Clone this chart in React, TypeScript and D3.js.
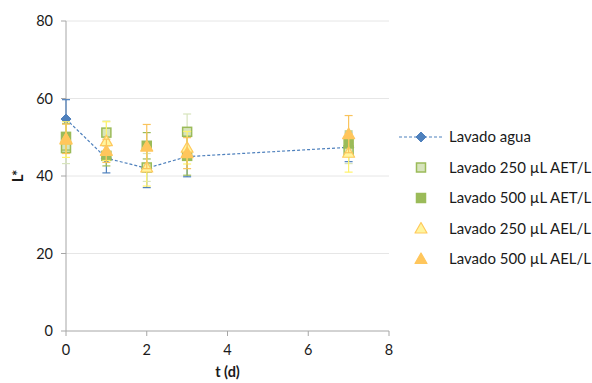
import React from "react";
import * as d3 from "d3";

const days = [0, 1, 2, 3, 7];

const aguaMean = [54.7, 44.6, 42.0, 45.0, 47.4];
const aguaErr = [5.0, 3.8, 5.0, 5.2, 3.7];

const aet250Mean = [47.2, 51.2, 42.2, 51.4, 46.6];
const aet250Err = [4.0, 3.0, 3.6, 4.6, 3.4];

const aet500Mean = [50.1, 45.2, 47.8, 45.2, 48.4];
const aet500Err = [3.4, 2.6, 3.4, 5.0, 3.2];

const ael250Mean = [49.4, 49.0, 42.2, 47.3, 46.0];
const ael250Err = [4.6, 5.0, 4.8, 4.2, 5.0];

const ael500Mean = [49.6, 46.5, 47.6, 45.9, 50.8];
const ael500Err = [3.8, 3.0, 5.7, 4.0, 4.8];

const xTicks = [0, 2, 4, 6, 8];
const yTicks = [0, 20, 40, 60, 80];

const legendLabels = [
  "Lavado agua",
  "Lavado 250 µL AET/L",
  "Lavado 500 µL AET/L",
  "Lavado 250 µL AEL/L",
  "Lavado 500 µL AEL/L",
];

type Series = {
  mean: number[];
  err: number[];
  shape: "diamond" | "square" | "triangle";
  fill: string;
  stroke: string;
  errColor: string;
  line?: boolean;
};

const series: Series[] = [
  { mean: aguaMean, err: aguaErr, shape: "diamond", fill: "#4F81BD", stroke: "#4F81BD", errColor: "#4F81BD", line: true },
  { mean: aet250Mean, err: aet250Err, shape: "square", fill: "#D7E4BD", stroke: "#9BBB59", errColor: "#D7E4BD" },
  { mean: aet500Mean, err: aet500Err, shape: "square", fill: "#9BBB59", stroke: "#9BBB59", errColor: "#9BBB59" },
  { mean: ael250Mean, err: ael250Err, shape: "triangle", fill: "#FFF59E", stroke: "#FFC95C", errColor: "#FFF36B" },
  { mean: ael500Mean, err: ael500Err, shape: "triangle", fill: "#FFC65C", stroke: "#FFC65C", errColor: "#F9C35C" },
];

const FONT = "Lato, 'Open Sans', sans-serif";

function Marker({ s, x, y }: { s: Series; x: number; y: number }) {
  if (s.shape === "diamond") {
    const r = 5;
    return (
      <path
        d={`M${x},${y - r}L${x + r},${y}L${x},${y + r}L${x - r},${y}Z`}
        fill={s.fill}
        stroke={s.stroke}
        strokeWidth={1}
      />
    );
  }
  if (s.shape === "square") {
    const h = 4.5;
    return (
      <rect x={x - h} y={y - h} width={2 * h} height={2 * h} fill={s.fill} stroke={s.stroke} strokeWidth={1.5} />
    );
  }
  const r = 6;
  return (
    <path
      d={`M${x},${y - r}L${x + r},${y + r * 0.75}L${x - r},${y + r * 0.75}Z`}
      fill={s.fill}
      stroke={s.stroke}
      strokeWidth={1.2}
      strokeLinejoin="round"
    />
  );
}

export default function App() {
  const width = 592;
  const height = 383;
  const left = 66;
  const right = 389;
  const top = 21;
  const bottom = 331;

  const x = d3.scaleLinear().domain([0, 8]).range([left, right]);
  const y = d3.scaleLinear().domain([0, 80]).range([bottom, top]);

  const line = d3
    .line<number>()
    .x((_, i) => x(days[i]))
    .y((d) => y(d));

  return (
    <svg
      width={width}
      height={height}
      style={{ position: "absolute", left: 0, top: 0, background: "#fff" }}
      fontFamily={FONT}
    >
      {/* gridlines */}
      {yTicks
        .filter((t) => t > 0)
        .map((t) => (
          <line key={t} x1={left} x2={right} y1={y(t)} y2={y(t)} stroke="#E6E6E6" strokeWidth={1} />
        ))}

      {/* axes */}
      <line x1={left} x2={left} y1={top} y2={bottom} stroke="#A6A6A6" strokeWidth={1} />
      <line x1={left} x2={right} y1={bottom} y2={bottom} stroke="#A6A6A6" strokeWidth={1} />
      {yTicks.map((t) => (
        <g key={t}>
          <line x1={left - 5} x2={left} y1={y(t)} y2={y(t)} stroke="#A6A6A6" />
          <text x={left - 13} y={y(t)} dy="0.35em" textAnchor="end" fontSize={14.5} fill="#1a1a1a">
            {t}
          </text>
        </g>
      ))}
      {xTicks.map((t) => (
        <g key={t}>
          <line x1={x(t)} x2={x(t)} y1={bottom} y2={bottom + 5} stroke="#A6A6A6" />
          <text x={x(t)} y={bottom + 24} textAnchor="middle" fontSize={14.5} fill="#1a1a1a">
            {t}
          </text>
        </g>
      ))}
      <text x={(left + right) / 2} y={377} textAnchor="middle" fontSize={14.5} fontWeight="bold" fill="#1a1a1a">
        t (d)
      </text>
      <text
        transform={`translate(23,${y(40)}) rotate(-90)`}
        textAnchor="middle"
        fontSize={15}
        fontWeight="bold"
        fill="#1a1a1a"
      >
        L*
      </text>

      {/* series */}
      {series.map((s, si) => (
        <g key={si}>
          {s.line && (
            <path d={line(s.mean) ?? ""} fill="none" stroke={s.stroke} strokeWidth={1.2} strokeDasharray="3,2" />
          )}
          {s.mean.map((m, i) => {
            const cx = x(days[i]);
            const y1 = y(m + s.err[i]);
            const y2 = y(m - s.err[i]);
            return (
              <g key={i} stroke={s.errColor} strokeWidth={1.2}>
                <line x1={cx} x2={cx} y1={y1} y2={y2} />
                <line x1={cx - 4} x2={cx + 4} y1={y1} y2={y1} />
                <line x1={cx - 4} x2={cx + 4} y1={y2} y2={y2} />
              </g>
            );
          })}
          {s.mean.map((m, i) => (
            <Marker key={i} s={s} x={x(days[i])} y={y(m)} />
          ))}
        </g>
      ))}

      {/* legend */}
      {legendLabels.map((label, i) => {
        const ly = 137 + i * 30.5;
        const s = series[i];
        return (
          <g key={label}>
            {s.line && <line x1={399} x2={443} y1={ly} y2={ly} stroke={s.stroke} strokeWidth={1.2} strokeDasharray="3,2" />}
            <Marker s={s} x={421} y={ly} />
            <text x={449} y={ly} dy="0.35em" fontSize={15} fill="#1a1a1a">
              {label}
            </text>
          </g>
        );
      })}
    </svg>
  );
}
